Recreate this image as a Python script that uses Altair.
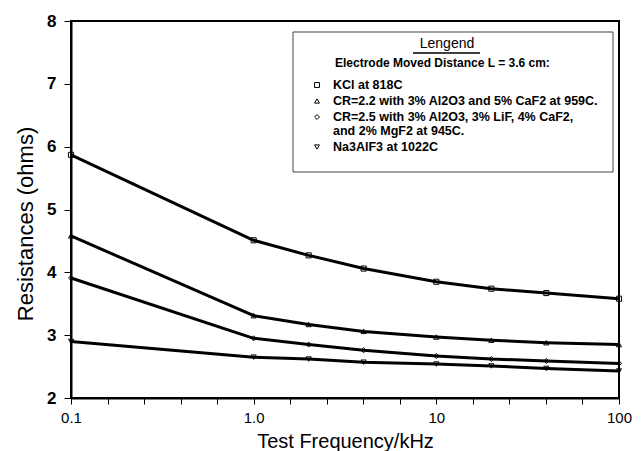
import altair as alt
import pandas as pd

# Test frequencies (kHz)
freq = [0.1, 1.0, 2.0, 4.0, 10.0, 20.0, 40.0, 100.0]

# Measured resistances (ohms) for each melt
kcl = [5.87, 4.51, 4.27, 4.06, 3.85, 3.74, 3.67, 3.58]
cr22 = [4.58, 3.31, 3.17, 3.06, 2.97, 2.92, 2.88, 2.85]
cr25 = [3.91, 2.95, 2.85, 2.76, 2.67, 2.62, 2.59, 2.55]
na3alf3 = [2.90, 2.65, 2.62, 2.57, 2.54, 2.51, 2.47, 2.43]

series_keys = ["KCl", "CR2.2", "CR2.5", "Na3AlF3"]
series_labels = [
    ["KCl at 818C"],
    ["CR=2.2 with 3% Al2O3 and 5% CaF2 at 959C."],
    ["CR=2.5 with 3% Al2O3, 3% LiF, 4% CaF2,", "and 2% MgF2 at 945C."],
    ["Na3AlF3 at 1022C"],
]
series_shapes = ["square", "triangle-up", "diamond", "triangle-down"]
legend_title = "Lengend"
legend_subtitle = "Electrode Moved Distance L = 3.6 cm:"

values = [kcl, cr22, cr25, na3alf3]
rows = []
for key, vals in zip(series_keys, values):
    for f, v in zip(freq, vals):
        rows.append({"series": key, "freq": f, "res": v})
df = pd.DataFrame(rows)

FONT = "Liberation Sans"
W, H = 548, 377

# ticks every fifth of a decade, labels at decades only
x_ticks = [round(10 ** (k / 5), 6) for k in range(-5, 11)]
label_expr = (
    "datum.value < 0.15 ? '0.1' : abs(datum.value - 1) < 0.01 ? '1.0' : "
    "abs(datum.value - 10) < 0.1 ? '10' : abs(datum.value - 100) < 1 ? '100' : ''"
)

x_enc = alt.X(
    "freq:Q",
    scale=alt.Scale(type="log", domain=[0.1, 100], nice=False),
    axis=alt.Axis(
        values=x_ticks,
        labelExpr=label_expr,
        title="Test Frequency/kHz",
        titleFontSize=20,
        titleFontWeight="normal",
        titleFont=FONT,
        titleBaseline="alphabetic",
        titleY=49,
        labelFontSize=15,
        labelFont=FONT,
        labelPadding=6,
        labelFlush=False,
        labelOverlap=False,
        tickSize=6,
        grid=False,
        domainColor="black",
        domainWidth=2,
        tickColor="black",
        tickWidth=1,
        labelColor="black",
        titleColor="black",
    ),
)
y_enc = alt.Y(
    "res:Q",
    scale=alt.Scale(domain=[2, 8], nice=False, zero=False),
    axis=alt.Axis(
        values=[2, 3, 4, 5, 6, 7, 8],
        format="d",
        title="Resistances (ohms)",
        titleFontSize=22,
        titleFontWeight="normal",
        titleFont=FONT,
        titleX=-34,
        titleY=H / 2 + 14,
        labelFontSize=17,
        labelFontWeight="bold",
        labelFont=FONT,
        labelPadding=8,
        tickSize=7,
        grid=False,
        domainColor="black",
        domainWidth=2,
        tickColor="black",
        tickWidth=1,
        labelColor="black",
        titleColor="black",
    ),
)

lines = alt.Chart(df).mark_line(
    color="black", strokeWidth=3, strokeJoin="round"
).encode(x=x_enc, y=y_enc, detail="series:N")

points = alt.Chart(df).mark_point(
    filled=False, color="black", size=26, strokeWidth=1, opacity=1
).encode(
    x="freq:Q",
    y="res:Q",
    shape=alt.Shape(
        "series:N",
        scale=alt.Scale(domain=series_keys, range=series_shapes),
        legend=None,
    ),
)

# Legend panel drawn inside the plot area
box_x, box_x2, box_y, box_y2 = 222, 542, 11, 151
legend_box = alt.Chart(pd.DataFrame({"k": [0]})).mark_rect(
    fill="white", stroke="#444444", strokeWidth=1
).encode(
    x=alt.value(box_x), x2=alt.value(box_x2), y=alt.value(box_y), y2=alt.value(box_y2)
)
title_txt = alt.Chart(pd.DataFrame({"t": [legend_title]})).mark_text(
    font=FONT, fontSize=14, align="center", baseline="middle", color="black"
).encode(text="t:N", x=alt.value(376), y=alt.value(23))
underline = alt.Chart(pd.DataFrame({"k": [0]})).mark_rule(
    color="black", strokeWidth=1.5
).encode(x=alt.value(342), x2=alt.value(409), y=alt.value(32))
subtitle_txt = alt.Chart(pd.DataFrame({"t": [legend_subtitle]})).mark_text(
    font=FONT, fontSize=12, fontWeight="bold", align="left", baseline="middle", color="black"
).encode(text="t:N", x=alt.value(264), y=alt.value(42))

row_top, row_step, line_step = 64, 16, 14
sym_rows, txt_rows = [], []
cur = row_top
for key, lab in zip(series_keys, series_labels):
    sym_rows.append({"series": key, "ly": cur})
    for j, line in enumerate(lab):
        txt_rows.append({"t": line, "ly": cur + j * line_step})
    cur += row_step + (len(lab) - 1) * line_step

leg_syms = alt.Chart(pd.DataFrame(sym_rows)).mark_point(
    filled=False, color="black", size=24, strokeWidth=1, opacity=1
).encode(
    x=alt.value(246),
    y=alt.Y("ly:Q", scale=None),
    shape=alt.Shape(
        "series:N",
        scale=alt.Scale(domain=series_keys, range=series_shapes),
        legend=None,
    ),
)
leg_txt = alt.Chart(pd.DataFrame(txt_rows)).mark_text(
    font=FONT, fontSize=12.5, fontWeight="bold", align="left", baseline="middle", color="black"
).encode(text="t:N", x=alt.value(262), y=alt.Y("ly:Q", scale=None))

chart = (
    alt.layer(lines, points, legend_box, title_txt, underline, subtitle_txt, leg_syms, leg_txt)
    .properties(
        width=W,
        height=H,
        autosize="none",
        padding={"left": 71, "top": 21, "right": 23, "bottom": 53},
        background="white",
    )
    .configure_view(stroke="black", strokeWidth=2)
)

chart.save("out.html", embed_options={"renderer": "svg", "actions": False})
